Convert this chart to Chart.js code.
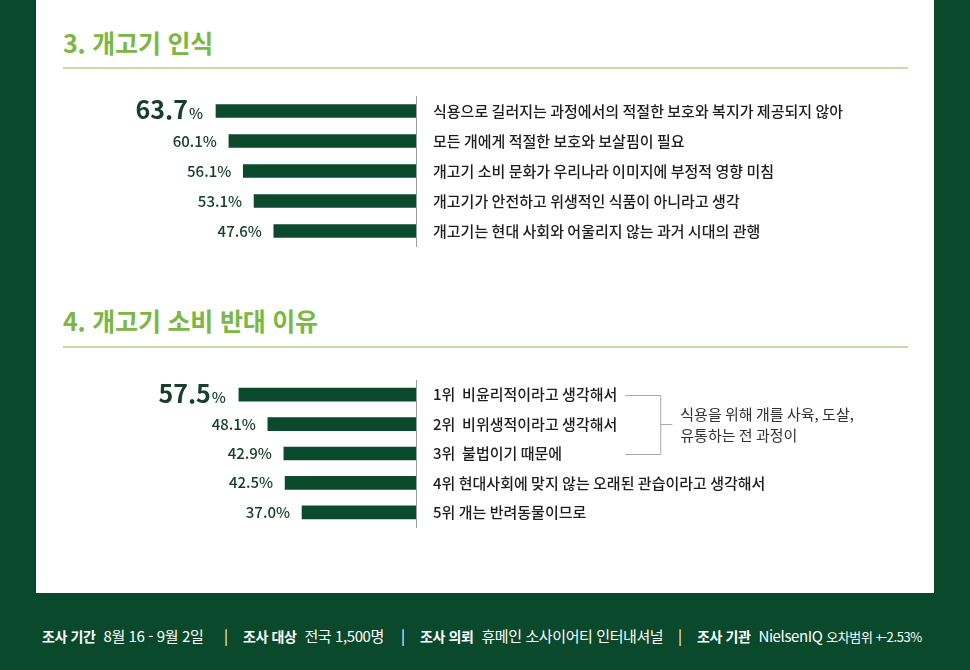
<!DOCTYPE html>
<html lang="ko">
<head>
<meta charset="utf-8">
<script src="https://cdn.jsdelivr.net/npm/chart.js@4/dist/chart.umd.min.js"></script>
<style>
  body { margin: 0; width: 970px; height: 670px; background: #0b492c; position: relative; overflow: hidden;
         font-family: "Noto Sans CJK KR", "Noto Sans", sans-serif; }
  .panel { position: absolute; left: 36px; top: 0; width: 898px; height: 593px; background: #fff; }
  .title { position: absolute; left: 63px; font-size: 25px; font-weight: 700; color: #7ab743; line-height: 28px; letter-spacing: -0.2px; }
  .rule { position: absolute; left: 63px; width: 845px; height: 2px; background: #c8dba6; }
  canvas { position: absolute; left: 0; }
  .foot { position: absolute; top: 626px; color: #fff; font-size: 15px; line-height: 20px; white-space: nowrap; letter-spacing: -0.4px; }
  .foot b { font-size: 14px; font-weight: 700; margin-right: 8px; }
  .foot small { font-size: 13px; }
</style>
</head>
<body>
<div class="panel"></div>
<div class="title" style="top:28px">3. 개고기 인식</div>
<div class="rule" style="top:67px"></div>
<div class="title" style="top:306px">4. 개고기 소비 반대 이유</div>
<div class="rule" style="top:346px"></div>
<canvas id="chart1" width="970" height="180" style="top:81px"></canvas>
<canvas id="chart2" width="970" height="177" style="top:365px"></canvas>

<div class="foot" style="left:42px"><b>조사 기간</b>8월 16 - 9월 2일</div>
<div class="foot" style="left:224px">|</div>
<div class="foot" style="left:243px"><b>조사 대상</b>전국 1,500명</div>
<div class="foot" style="left:401px">|</div>
<div class="foot" style="left:420px"><b>조사 의뢰</b>휴메인 소사이어티 인터내셔널</div>
<div class="foot" style="left:678px">|</div>
<div class="foot" style="left:697px"><b>조사 기관</b>NielsenIQ <small>오차범위 +-2.53%</small></div>

<script>
const FONT = '"Noto Sans CJK KR", "Noto Sans", sans-serif';

// 3. 개고기 인식
const perceptionLabels = [
  "식용으로 길러지는 과정에서의 적절한 보호와 복지가 제공되지 않아",
  "모든 개에게 적절한 보호와 보살핌이 필요",
  "개고기 소비 문화가 우리나라 이미지에 부정적 영향 미침",
  "개고기가 안전하고 위생적인 식품이 아니라고 생각",
  "개고기는 현대 사회와 어울리지 않는 과거 시대의 관행"
];
const perceptionValues = [63.7, 60.1, 56.1, 53.1, 47.6];

// 4. 개고기 소비 반대 이유
const reasonLabels = [
  "1위  비윤리적이라고 생각해서",
  "2위  비위생적이라고 생각해서",
  "3위  불법이기 때문에",
  "4위 현대사회에 맞지 않는 오래된 관습이라고 생각해서",
  "5위 개는 반려동물이므로"
];
const reasonValues = [57.5, 48.1, 42.9, 42.5, 37.0];
const reasonNote = ["식용을 위해 개를 사육, 도살,", "유통하는 전 과정이"];

const BAR = "#0b4a2d";

// value labels at the left end of each bar, the first one large
const valueLabels = {
  id: "valueLabels",
  afterDatasetsDraw(chart) {
    const ctx = chart.ctx;
    const meta = chart.getDatasetMeta(0);
    const vals = chart.data.datasets[0].data;
    ctx.save();
    ctx.fillStyle = "#17402a";
    ctx.textAlign = "right";
    ctx.textBaseline = "alphabetic";
    meta.data.forEach((bar, i) => {
      const txt = vals[i].toFixed(1);
      if (i === 0) {
        let x = bar.x - 13;
        ctx.font = "500 15px " + FONT;
        ctx.fillText("%", x, bar.y + 8);
        x -= ctx.measureText("%").width + 1;
        ctx.font = "700 25px " + FONT;
        ctx.fillText(txt, x, bar.y + 8);
      } else {
        ctx.font = "500 15px " + FONT;
        ctx.fillText(txt + "%", bar.x - 12, bar.y + 5.5);
      }
    });
    ctx.restore();
  }
};

// bracket grouping rank 1-3 with a note
const bracketNote = {
  id: "bracketNote",
  afterDraw(chart, args, opts) {
    if (!opts.lines) return;
    const ctx = chart.ctx;
    const y = chart.scales.y;
    ctx.save();
    ctx.font = "500 15px " + FONT;
    let w = 0;
    for (let i = 0; i <= 2; i++) w = Math.max(w, ctx.measureText(chart.data.labels[i]).width);
    const x0 = y.left + 17 + w + 8;
    const x1 = x0 + 35;
    const ya = y.getPixelForValue(0), yb = y.getPixelForValue(2);
    const ym = (ya + yb) / 2;
    ctx.strokeStyle = "#a9a9a9";
    ctx.lineWidth = 1;
    ctx.beginPath();
    ctx.moveTo(x0, Math.round(ya) + 0.5);
    ctx.lineTo(x1 + 0.5, Math.round(ya) + 0.5);
    ctx.lineTo(x1 + 0.5, Math.round(yb) + 0.5);
    ctx.lineTo(x0, Math.round(yb) + 0.5);
    ctx.moveTo(x1, Math.round(ym) + 0.5);
    ctx.lineTo(x1 + 12, Math.round(ym) + 0.5);
    ctx.stroke();
    ctx.fillStyle = "#333";
    ctx.textAlign = "left";
    ctx.textBaseline = "middle";
    ctx.font = "15px " + FONT;
    ctx.fillText(opts.lines[0], x1 + 20, ym - 10);
    ctx.fillText(opts.lines[1], x1 + 20, ym + 11);
    ctx.restore();
  }
};

function makeChart(id, labels, values, min, max, padLeft, note) {
  return new Chart(document.getElementById(id), {
    type: "bar",
    data: {
      labels: labels,
      datasets: [{ data: values, backgroundColor: BAR, borderWidth: 0, barThickness: 13 }]
    },
    options: {
      indexAxis: "y",
      responsive: false,
      animation: false,
      layout: { padding: { left: padLeft, right: 0, top: 15, bottom: 15 } },
      scales: {
        x: { display: false, reverse: true, min: min, max: max },
        y: {
          position: "right",
          grid: { display: false, drawTicks: false },
          border: { display: true, color: "#9e9e9e", width: 1 },
          ticks: { padding: 17, color: "#1e1e1e", crossAlign: "near", font: { family: FONT, size: 15, weight: "500" } },
          afterFit(scale) {
            scale.width = 554;
            scale.paddingTop = 0;
            scale.paddingBottom = 0;
          }
        }
      },
      plugins: {
        legend: { display: false },
        tooltip: { enabled: false },
        bracketNote: { lines: note }
      }
    },
    plugins: [valueLabels, bracketNote]
  });
}

makeChart("chart1", perceptionLabels, perceptionValues, 8, 96, 100, null);
makeChart("chart2", reasonLabels, reasonValues, 0, 100, 108, reasonNote);
</script>
</body>
</html>
